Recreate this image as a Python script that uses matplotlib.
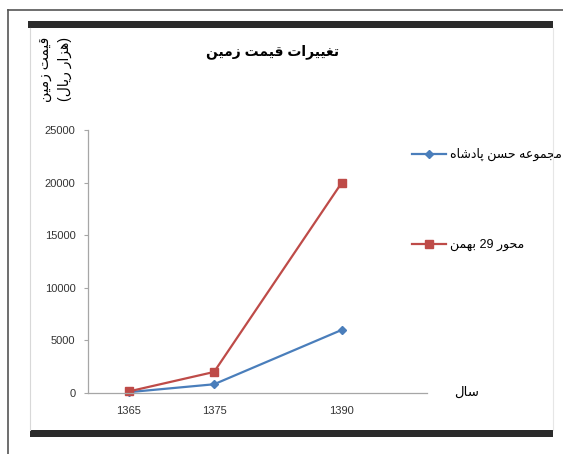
import re

import matplotlib
matplotlib.use("Agg")
import matplotlib.pyplot as plt
from matplotlib.patches import Rectangle
from matplotlib.lines import Line2D

years = [1365, 1375, 1390]
hasan_padeshah = [80, 830, 6000]
bahman_29 = [150, 2000, 20000]
yticks = [0, 5000, 10000, 15000, 20000, 25000]

title = "تغییرات قیمت زمین"
ylabel = "قیمت زمین\n(هزار ریال)"
xlabel = "سال"
series_labels = ["مجموعه حسن پادشاه", "محور 29 بهمن"]

# matplotlib has no arabic shaping, so pick presentation forms by hand
# (isolated, final, initial, medial)
FORMS = {
    "ا": (0xFE8D, 0xFE8E, None, None),
    "ب": (0xFE8F, 0xFE90, 0xFE91, 0xFE92),
    "پ": (0xFB56, 0xFB57, 0xFB58, 0xFB59),
    "ت": (0xFE95, 0xFE96, 0xFE97, 0xFE98),
    "ج": (0xFE9D, 0xFE9E, 0xFE9F, 0xFEA0),
    "ح": (0xFEA1, 0xFEA2, 0xFEA3, 0xFEA4),
    "د": (0xFEA9, 0xFEAA, None, None),
    "ر": (0xFEAD, 0xFEAE, None, None),
    "ز": (0xFEAF, 0xFEB0, None, None),
    "س": (0xFEB1, 0xFEB2, 0xFEB3, 0xFEB4),
    "ش": (0xFEB5, 0xFEB6, 0xFEB7, 0xFEB8),
    "ع": (0xFEC9, 0xFECA, 0xFECB, 0xFECC),
    "غ": (0xFECD, 0xFECE, 0xFECF, 0xFED0),
    "ق": (0xFED5, 0xFED6, 0xFED7, 0xFED8),
    "ل": (0xFEDD, 0xFEDE, 0xFEDF, 0xFEE0),
    "م": (0xFEE1, 0xFEE2, 0xFEE3, 0xFEE4),
    "ن": (0xFEE5, 0xFEE6, 0xFEE7, 0xFEE8),
    "ه": (0xFEE9, 0xFEEA, 0xFEEB, 0xFEEC),
    "و": (0xFEED, 0xFEEE, None, None),
    "ی": (0xFBFC, 0xFBFD, 0xFBFE, 0xFBFF),
}


def dual(c):
    return c in FORMS and FORMS[c][2] is not None


def shape_line(s):
    out = []
    for i, c in enumerate(s):
        if c not in FORMS:
            out.append(c)
            continue
        prev = s[i - 1] if i > 0 else ""
        nxt = s[i + 1] if i + 1 < len(s) else ""
        jp = dual(prev)
        jn = dual(c) and nxt in FORMS
        f = FORMS[c]
        if jp and jn:
            out.append(chr(f[3]))
        elif jp:
            out.append(chr(f[1]))
        elif jn:
            out.append(chr(f[2]))
        else:
            out.append(chr(f[0]))
    vis = "".join(out)[::-1]
    vis = re.sub(r"[0-9]+", lambda m: m.group(0)[::-1], vis)
    vis = vis.translate(str.maketrans("()", ")("))
    return vis


def rtl(s):
    return "\n".join(shape_line(line) for line in s.split("\n"))


plt.rcParams["font.family"] = ["Liberation Sans", "DejaVu Sans"]

W, H = 563, 454
fig = plt.figure(figsize=(W / 100, H / 100), dpi=100)

# page frame and the dark bars above and below the chart
fig.add_artist(Line2D([8 / W, 8 / W], [0, 1 - 10 / H], transform=fig.transFigure, color="#555555", lw=1.2))
fig.add_artist(Line2D([8 / W, 1], [1 - 10 / H, 1 - 10 / H], transform=fig.transFigure, color="#555555", lw=1.2))
fig.add_artist(Line2D([30 / W, 30 / W], [1 - 430 / H, 1 - 28 / H], transform=fig.transFigure, color="#d8d8d8", lw=0.8))
fig.add_artist(Line2D([553 / W, 553 / W], [1 - 430 / H, 1 - 28 / H], transform=fig.transFigure, color="#e6e6e6", lw=0.8))
fig.add_artist(Rectangle((28 / W, 1 - 28 / H), 525 / W, 7 / H, transform=fig.transFigure, color="#2b2b2b", lw=0))
fig.add_artist(Rectangle((30 / W, 1 - 437 / H), 523 / W, 7 / H, transform=fig.transFigure, color="#2b2b2b", lw=0))

ax = fig.add_axes([88 / W, 1 - 393 / H, 339 / W, 263 / H])
ax.plot(years, hasan_padeshah, color="#4a7ebb", lw=1.6, marker="D", ms=4.5,
        label=rtl(series_labels[0]), clip_on=False)
ax.plot(years, bahman_29, color="#be4b48", lw=1.6, marker="s", ms=6,
        label=rtl(series_labels[1]), clip_on=False)

ax.set_xlim(1360.2, 1400)
ax.set_ylim(0, 25000)
ax.set_xticks(years)
ax.set_yticks(yticks)
for s in ["top", "right"]:
    ax.spines[s].set_visible(False)
for s in ["left", "bottom"]:
    ax.spines[s].set_color("#a6a6a6")
    ax.spines[s].set_linewidth(0.9)
ax.tick_params(axis="y", length=3, pad=6, color="#a6a6a6", labelsize=8, labelcolor="#333333")
ax.tick_params(axis="x", length=0, pad=9, labelsize=8, labelcolor="#333333")

ax.legend(loc="upper left", bbox_to_anchor=(412 / W, 1 - 148 / H), bbox_transform=fig.transFigure,
          frameon=False, labelspacing=6.25, handlelength=2.7, handletextpad=0.35,
          borderpad=0, borderaxespad=0, fontsize=9)

fig.text(273 / W, 1 - 52 / H, rtl(title), ha="center", va="center", fontsize=10, fontweight="bold")
fig.text(55 / W, 1 - 69 / H, rtl(ylabel), ha="center", va="center", rotation=90,
         multialignment="center", fontsize=10, linespacing=1.55)
fig.text(454 / W, 1 - 393 / H, rtl(xlabel), ha="left", va="center", fontsize=9.5)

fig.savefig("out.png", dpi=100)
